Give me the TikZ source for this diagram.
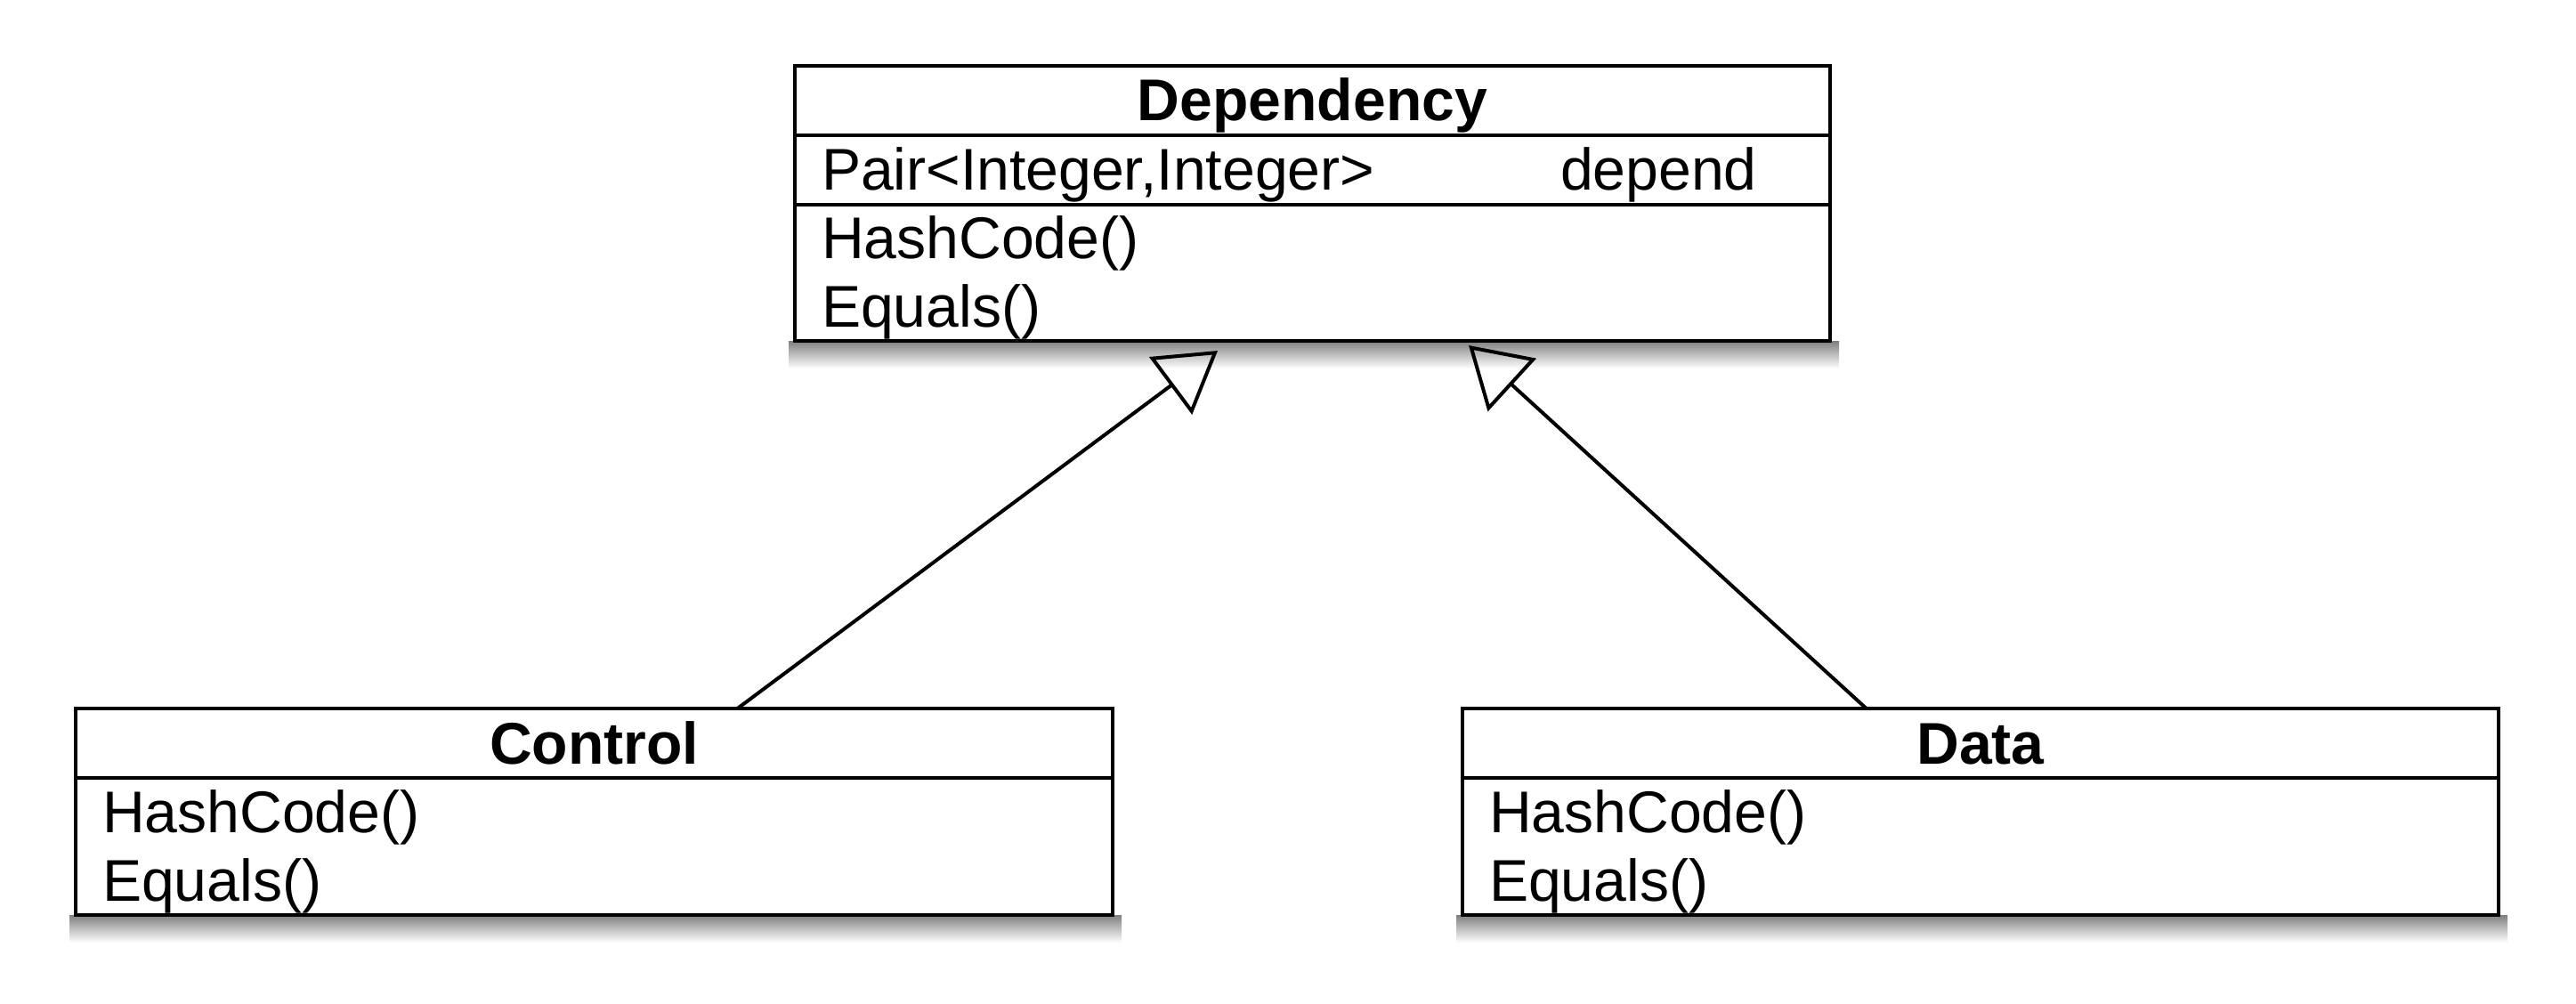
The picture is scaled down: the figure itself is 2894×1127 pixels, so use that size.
\documentclass[tikz,border=0pt]{standalone}
\usepackage{fontspec}
\setmainfont{Liberation Sans}
\usetikzlibrary{arrows.meta}
\begin{document}
\begin{tikzpicture}[x=0.01cm,y=-0.01cm,
  every node/.style={inner sep=0pt, outer sep=0pt, font=\fontsize{18.8pt}{22pt}\selectfont},
  classbox/.style={draw=black, line width=0.042cm, fill=white, rectangle},
  divider/.style={line width=0.042cm},
  title/.style={anchor=base, font=\fontsize{18.8pt}{22pt}\selectfont\bfseries},
  member/.style={anchor=base west},
  shadowbar/.style={top color=black!50, bottom color=white, draw=none},
  gen/.style={line width=0.04cm, -{Triangle[open, length=0.66cm, width=0.80cm, line width=0.04cm]}}
]
\useasboundingbox (0,0) rectangle (2894,1127);
\fill[white] (0,0) rectangle (2894,1127);

% shadows
\shade[shadowbar] (886,383) rectangle (2066,414);
\shade[shadowbar] (78,1028) rectangle (1260,1059);
\shade[shadowbar] (1636,1028) rectangle (2817,1059);

% Dependency
\node[classbox, minimum width=11.63cm, minimum height=3.09cm] (dep) at (1474.5,228.5) {};
\draw[divider] (dep.west |- 0,152) -- (dep.east |- 0,152);
\draw[divider] (dep.west |- 0,230) -- (dep.east |- 0,230);
\node[title] (deptitle) at (1474.5,135) {Dependency};
\node[member] (depattr) at (923,213) {Pair<Integer,Integer>};
\node[member] (depname) at (1753,213) {depend};
\node[member] (dephash) at (923,290) {HashCode()};
\node[member] (depeq) at (923,367) {Equals()};

% Control
\node[classbox, minimum width=11.65cm, minimum height=2.32cm] (ctrl) at (667.5,912) {};
\draw[divider] (ctrl.west |- 0,874) -- (ctrl.east |- 0,874);
\node[title] (ctrltitle) at (667.5,858) {Control};
\node[member] (ctrlhash) at (115,935) {HashCode()};
\node[member] (ctrleq) at (115,1012) {Equals()};

% Data
\node[classbox, minimum width=11.64cm, minimum height=2.32cm] (data) at (2225,912) {};
\draw[divider] (data.west |- 0,874) -- (data.east |- 0,874);
\node[title] (datatitle) at (2225,858) {Data};
\node[member] (datahash) at (1673,935) {HashCode()};
\node[member] (dataeq) at (1673,1012) {Equals()};

% generalization arrows
\coordinate (tipL) at (1368,394);
\coordinate (tipR) at (1650,388);
\draw[gen] ([xshift=1.61cm]ctrl.north) -- (tipL);
\draw[gen] ([xshift=-1.283cm]data.north) -- (tipR);
\end{tikzpicture}
\end{document}
